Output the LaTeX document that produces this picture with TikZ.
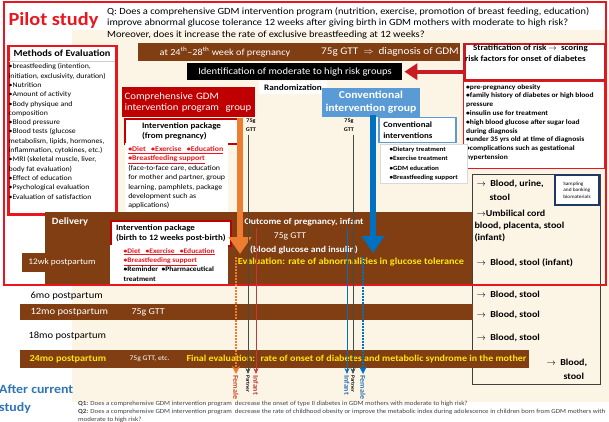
\documentclass[tikz,border=0pt]{standalone}
\usepackage{fontspec}
\setmainfont{Carlito}[FakeStretch=1.1]
\usetikzlibrary{arrows.meta,positioning,calc}
\definecolor{gdmbrown}{RGB}{128,62,18}
\definecolor{pilotred}{RGB}{232,22,30}
\definecolor{darkred}{RGB}{192,0,0}
\definecolor{stratred}{RGB}{200,28,36}
\definecolor{convblue}{RGB}{91,155,213}
\definecolor{arrowblue}{RGB}{0,112,192}
\definecolor{gdmorange}{RGB}{237,125,49}
\definecolor{cream}{RGB}{252,244,229}
\definecolor{evalyellow}{RGB}{255,232,0}
\definecolor{navybox}{RGB}{31,56,100}
\definecolor{afterblue}{RGB}{46,117,182}
\definecolor{partnergray}{RGB}{60,80,72}
\definecolor{infantred}{RGB}{192,60,60}
\definecolor{femalered}{RGB}{200,70,40}
\newcommand{\fsz}[2]{\fontsize{#1}{#2}\selectfont}
\newcommand{\redu}[1]{\textcolor{pilotred}{\bfseries\underline{#1}}}

\begin{document}
\begin{tikzpicture}[x=1pt,y=-1pt,font=\fsz{7}{8.5},
  bar/.style={fill=gdmbrown,inner sep=0,anchor=north west},
  wtxt/.style={text=white,font=\fsz{9.6}{12}},
  ytxt/.style={text=evalyellow,font=\fsz{9.3}{12}\bfseries},
  pkgbox/.style={draw=darkred,line width=2pt,fill=white,anchor=north west,align=left,font=\fsz{8.2}{10.2}\bfseries,inner xsep=5pt},
  listbox/.style={fill=white,anchor=north west,align=left,inner sep=3pt},
  smp/.style={anchor=west,font=\fsz{9.1}{12.5}\bfseries},
  mo/.style={anchor=west,font=\fsz{9.6}{12}},
  bigarr/.style={line width=6.5pt,-{Triangle[length=17pt,width=22pt]}},
  dotarr/.style={line width=1.8pt,dash pattern=on 1.6pt off 1.4pt,-{Stealth[length=8pt,width=8pt]}},
  thinarr/.style={line width=0.7pt,-{Stealth[length=6pt,width=5pt]}},
  vlbl/.style={rotate=-90,anchor=west,inner sep=1pt,font=\fsz{7.3}{9}\bfseries}]
\useasboundingbox (0,0) rectangle (609,422);
\fill[cream] (72,30) rectangle (609,402);

\node[anchor=west,text=pilotred,font=\fsz{18.5}{22}\bfseries] (pilot) at (5,20) {Pilot study};
\node[anchor=north west,align=left,inner sep=0,font=\fsz{9.5}{11.6}] (question) at (107,7) {Q: Does a comprehensive GDM intervention program (nutrition, exercise, promotion of breast feeding, education)\\improve abnormal glucose tolerance 12 weeks after giving birth in GDM mothers with moderate to high risk?\\Moreover, does it increase the rate of exclusive breastfeeding at 12 weeks?};

\node[draw=pilotred,line width=2.5pt,fill=white,anchor=north west,minimum width=108pt,minimum height=168pt,inner sep=0] (methods) at (7,45) {};
\node[anchor=west,font=\fsz{9.4}{10}\bfseries] (methodshead) at (10,53) {Methods of Evaluation};
\draw[gray!40] (8.5,61) -- (114.5,61);
\node[anchor=north west,align=left,inner sep=0,font=\fsz{7.1}{9.3}] (methodslist) at (8.5,63.5) {\textbullet breastfeeding (intention,\\initiation, exclusivity, duration)\\\textbullet Nutrition\\\textbullet Amount of activity\\\textbullet Body physique and\\composition\\\textbullet Blood pressure\\\textbullet Blood tests (glucose\\metabolism, lipids, hormones,\\inflammation, cytokines, etc.)\\\textbullet MRI (skeletal muscle, liver,\\body fat evaluation)\\\textbullet Effect of education\\\textbullet Psychological evaluation\\\textbullet Evaluation of satisfaction};

\node[bar,minimum width=322pt,minimum height=18pt] (pregbar) at (138,43) {};
\node[wtxt,font=\fsz{9.3}{12}] (weektext) at (225,52) {at 24\textsuperscript{th}–28\textsuperscript{th} week of pregnancy};
\node[wtxt,font=\fsz{10.2}{12}] (gttdiag) at (390,52) {75g GTT \ $\Rightarrow$ \ diagnosis of GDM};
\node[bar,fill=black,minimum width=215pt,minimum height=17pt] (riskbar) at (187,63) {};
\node[wtxt] (risktext) at (295,71.5) {Identification of moderate to high risk groups};

\node[draw=stratred,line width=2.5pt,fill=white,anchor=north west,minimum width=141pt,minimum height=36pt,inner sep=0] (strat) at (463,43) {};
\node[anchor=north west,align=left,inner sep=0,font=\fsz{8.2}{11}\bfseries] (strattext) at (465,45) {\hspace{8pt}Stratification of risk $\rightarrow$ \ scoring\\risk factors for onset of diabetes};
\draw[stratred,line width=4pt,-{Triangle[length=13pt,width=16pt]}] (riskbar.east -| strat.west) -- ([xshift=2pt]riskbar.east);
\node[draw=pilotred,line width=0.8pt,fill=white,anchor=north west,minimum width=141pt,minimum height=87pt,inner sep=0] (riskbox) at (463,81) {};
\node[anchor=north west,align=left,inner sep=0,font=\fsz{6.9}{8.8}\bfseries] (risklist) at (466,84) {\textbullet pre-pregnancy obesity\\\textbullet family history of diabetes or high blood\\pressure\\\textbullet insulin use for treatment\\\textbullet high blood glucose after sugar load\\during diagnosis\\\textbullet under 35 yrs old at time of diagnosis\\\textbullet complications such as gestational\\hypertension};

\node[fill=white,font=\fsz{8.4}{9}\bfseries,minimum width=68pt,minimum height=13pt] (random) at (293,88) {Randomization};

\node[fill=darkred,text=white,anchor=north west,minimum width=133pt,minimum height=30pt,text width=128pt,align=left,inner xsep=2.5pt,font=\fsz{9.8}{11.5}] (compgrp) at (122,87) {Comprehensive GDM\\intervention program \ group};
\node[pkgbox,minimum width=113pt,minimum height=25pt] (pkgpreg) at (124,118) {Intervention package\\(from pregnancy)};
\node[listbox,minimum width=103pt,minimum height=69pt,font=\fsz{7.2}{9.4}] (pkgpregbody) at (125,143) {\redu{\textbullet Diet \ \ \textbullet Exercise \ \ \textbullet Education}\\\redu{\textbullet Breastfeeding support}\\(face-to-face care, education\\for mother and partner, group\\learning, pamphlets, package\\development such as\\applications)};

\node[fill=convblue,text=white,anchor=north west,minimum width=96pt,minimum height=27pt,align=center,font=\fsz{10.6}{12.5}\bfseries] (convgrp) at (322,88) {Conventional\\intervention group};
\node[draw=convblue,line width=1.5pt,fill=white,anchor=north west,minimum width=77pt,minimum height=25pt,text width=68pt,align=left,font=\fsz{8.1}{10.2}\bfseries] (convint) at (378,117) {Conventional\\interventions};
\node[listbox,draw=gray!30,minimum width=87pt,font=\fsz{6.4}{9.2}\bfseries] (convlist) at (380,144) {\textbullet Dietary treatment\\\textbullet Exercise treatment\\\textbullet GDM education\\\textbullet Breastfeeding support};

\node[align=center,font=\fsz{5.6}{9}\bfseries] (gttcomp) at (251,125) {75g\\GTT};
\node[align=center,font=\fsz{5.6}{9}\bfseries] (gttconv) at (349,125) {75g\\GTT};

\fill[gdmbrown] (45,212) rectangle (473,284);
\node[bar,minimum width=88pt,minimum height=19pt] (wkbar) at (22,253) {};
\node[wtxt,font=\fsz{9.6}{12}\bfseries] (delivery) at (70,222) {Delivery};
\node[wtxt,font=\fsz{8.5}{10}] (wktext) at (62,262.5) {12wk postpartum};
\node[pkgbox,minimum width=118pt,minimum height=25pt] (pkgbirth) at (110,220) {Intervention package\\(birth to 12 weeks post-birth)};
\node[listbox,minimum width=118pt,minimum height=39pt,font=\fsz{6.9}{9.3}] (pkgbirthbody) at (110,245) {\redu{\textbullet Diet \ \ \textbullet Exercise \ \ \textbullet Education}\\\redu{\textbullet Breastfeeding support}\\\textbf{\textbullet Reminder \ \textbullet Pharmaceutical}\\\textbf{treatment}};
\node[wtxt,font=\fsz{8.8}{12}\bfseries] (outcome) at (304,222) {Outcome of pregnancy, infant};
\node[wtxt,font=\fsz{8.8}{12}] (outgtt) at (290,236) {75g GTT};
\node[wtxt,font=\fsz{8.8}{12}\bfseries] (outblood) at (304,250) {(blood glucose and insulin)};
\node[ytxt] (outeval) at (351,262) {Evaluation: rate of abnormalities in glucose tolerance};

\node[draw=black!75,line width=0.8pt,anchor=north west,minimum width=128pt,minimum height=210pt,inner sep=0] (samplebox) at (472,174) {};
\node[draw=navybox,line width=2pt,fill=white,anchor=north east,minimum width=44pt,minimum height=30pt,align=left,inner sep=2pt,font=\fsz{4.9}{6.6}] (banking) at (600,174) {Sampling\\and banking\\biomaterials};
\node[smp] (sampleA) at (473,184) {$\rightarrow$ \ Blood, urine,};
\node[smp] (sampleB) at (486,197) {stool};
\node[smp] (sampleC) at (473,213) {$\rightarrow$Umbilical cord};
\node[smp,align=left] (sampleD) at (471,232) {blood, placenta, stool\\(infant)};
\node[smp] (sampleE) at (473,263) {$\rightarrow$ \ Blood, stool (infant)};
\foreach \y/\nm in {295/sixmoS,315/twelvemoS,338/eighteenmoS}{
\node[smp] (\nm) at (473,\y) {$\rightarrow$ \ Blood, stool};}
\node[smp] (finalS) at (543,363) {$\rightarrow$ \ Blood,};
\node[smp] (finalT) at (560,376) {stool};

\draw[pilotred,line width=2pt] (4,2) rectangle (606,285);

\node[mo] (sixmo) at (27,296) {6mo postpartum};
\node[bar,minimum width=453pt,minimum height=16pt] (twelvebar) at (20,304) {};
\node[mo,text=white] (twelvemo) at (27,312) {12mo postpartum};
\node[mo,text=white,font=\fsz{9.1}{12}] (twelvegtt) at (128,312) {75g GTT};
\node[mo] (eighteenmo) at (25,336) {18mo postpartum};
\node[bar,minimum width=509pt,minimum height=18pt] (finalbar) at (20,350) {};
\node[mo,text=evalyellow,font=\fsz{9.3}{12}\bfseries] (twentyfourmo) at (26,359) {24mo postpartum};
\node[mo,text=white,font=\fsz{7}{12}] (finalgtt) at (126,359) {75g GTT, etc.};
\node[mo,text=evalyellow,font=\fsz{9.1}{12}\bfseries] (finaleval) at (183,359) {Final evaluation: \ rate of onset of diabetes and metabolic syndrome in the mother};

\coordinate (orangetop) at (240,118);
\coordinate (orangetip) at (240,254);
\coordinate (bluetop) at (373,115);
\coordinate (bluetip) at (373,253);
\draw[gdmorange,bigarr] (orangetop) -- (orangetip);
\draw[arrowblue,bigarr] (bluetop) -- (bluetip);

\node[vlbl,text=femalered] (femaleA) at (236,374) {Female};
\node[vlbl,font=\fsz{5}{6}\bfseries] (partnerA) at (248,374) {Partner};
\node[vlbl,text=infantred] (infantA) at (256,374) {Infant};
\node[vlbl,text=afterblue] (infantB) at (347,374) {Infant};
\node[vlbl,font=\fsz{5}{6}\bfseries] (partnerB) at (353,374) {Partner};
\node[vlbl,text=afterblue] (femaleB) at (363,374) {Female};
\coordinate (orangedot) at (236,257);
\coordinate (bluedot) at (363,257);
\coordinate (infanttopA) at (256,228);
\coordinate (infanttopB) at (347,228);
\draw[gdmorange,dotarr] (orangedot) -- (femaleA.west);
\draw[arrowblue,dotarr] (bluedot) -- (femaleB.west);
\draw[partnergray,thinarr] (gttcomp.south -| partnerA.west) -- (partnerA.west);
\draw[partnergray,thinarr] (gttconv.south -| partnerB.west) -- (partnerB.west);
\draw[infantred,thinarr] (infanttopA) -- (infantA.west);
\draw[arrowblue,thinarr] (infanttopB) -- (infantB.west);

\node[anchor=north west,align=left,inner sep=0,text=afterblue,font=\fsz{12.6}{18}\bfseries] (after) at (-1,385) {After current\\study};
\node[anchor=north west,align=left,inner sep=0,text=black!75,font=\fsz{6.3}{8}] (q12) at (78,400.5) {\textbf{Q1:} Does a comprehensive GDM intervention program \ decrease the onset of type II diabetes in GDM mothers with moderate to high risk?\\\textbf{Q2:} Does a comprehensive GDM intervention program \ decrease the rate of childhood obesity or improve the metabolic index during adolescence in children born from GDM mothers with\\moderate to high risk?};
\end{tikzpicture}
\end{document}
